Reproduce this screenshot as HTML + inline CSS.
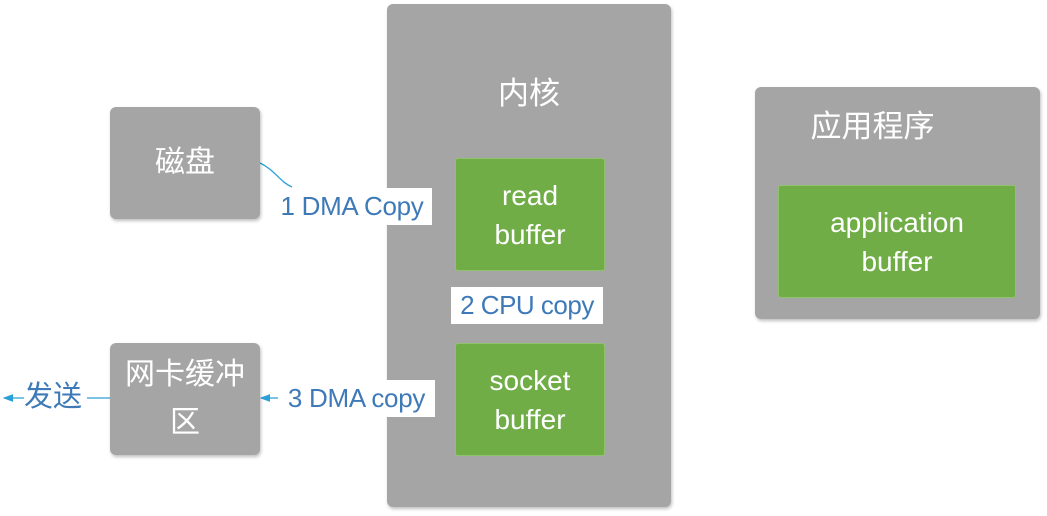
<!DOCTYPE html>
<html><head><meta charset="utf-8"><style>
body{margin:0;width:1047px;height:516px;background:#fff;position:relative;overflow:hidden;font-family:"Liberation Sans","Noto Sans CJK SC",sans-serif}
.b{position:absolute;background:#a5a5a5;border-radius:6px;box-shadow:1px 2px 3px rgba(0,0,0,.25);color:#fff}
.g{position:absolute;background:#70ad47;border:1px solid #8fc26c;border-radius:3px;color:#fff;display:flex;align-items:center;justify-content:center;text-align:center;font-size:28px;line-height:39px}
.c{display:flex;align-items:center;justify-content:center;text-align:center;font-size:30px;line-height:48px}
.l{position:absolute;background:#fff;color:#3f7ab8;font-size:26px;line-height:37px;white-space:nowrap}
</style></head><body>
<svg width="1047" height="516" style="position:absolute;left:0;top:0">
<defs><marker id="a" markerWidth="8" markerHeight="8" refX="7" refY="4" orient="auto"><path d="M0,1 L8,4 L0,7z" fill="#29a0d8"/></marker></defs>
<g stroke="#29a0d8" stroke-width="1.3" fill="none">
<path d="M260,163 C275,170 280,182 292,187"/>
<path d="M432,211 L454,211" marker-end="url(#a)"/>
<path d="M529,270 L529,287"/>
<path d="M529,324 L529,342" marker-end="url(#a)"/>
<path d="M455,398 L435,398"/>
<path d="M278,398 L261,398" marker-end="url(#a)"/>
<path d="M110,398 L87,398"/>
<path d="M24,398 L4,398" marker-end="url(#a)"/>
</g></svg>
<div class="b" style="left:387px;top:4px;width:284px;height:503px"><div class="c" style="margin-top:66px;font-size:31px">内核</div></div>
<div class="b c" style="left:110px;top:107px;width:150px;height:112px;align-items:flex-start"><div style="margin-top:32px">磁盘</div></div>
<div class="b c" style="left:110px;top:343px;width:150px;height:112px">网卡缓冲<br>区</div>
<div class="b" style="left:755px;top:87px;width:285px;height:232px"><div class="c" style="margin-top:16px;margin-right:50px;font-size:31px">应用程序</div></div>
<div class="g" style="left:455px;top:158px;width:148px;height:111px">read<br>buffer</div>
<div class="g" style="left:455px;top:343px;width:148px;height:111px">socket<br>buffer</div>
<div class="g" style="left:778px;top:185px;width:236px;height:111px">application<br>buffer</div>
<div class="l" style="left:272px;top:188px;width:160px;text-align:center;letter-spacing:-0.3px">1 DMA Copy</div>
<div class="l" style="left:451px;top:287px;width:152px;text-align:center;letter-spacing:-0.5px">2 CPU copy</div>
<div class="l" style="left:278px;top:380px;width:157px;text-align:center;letter-spacing:-0.3px">3 DMA copy</div>
<div class="l" style="left:24px;top:379px;background:none;font-size:29px">发送</div>
</body></html>
